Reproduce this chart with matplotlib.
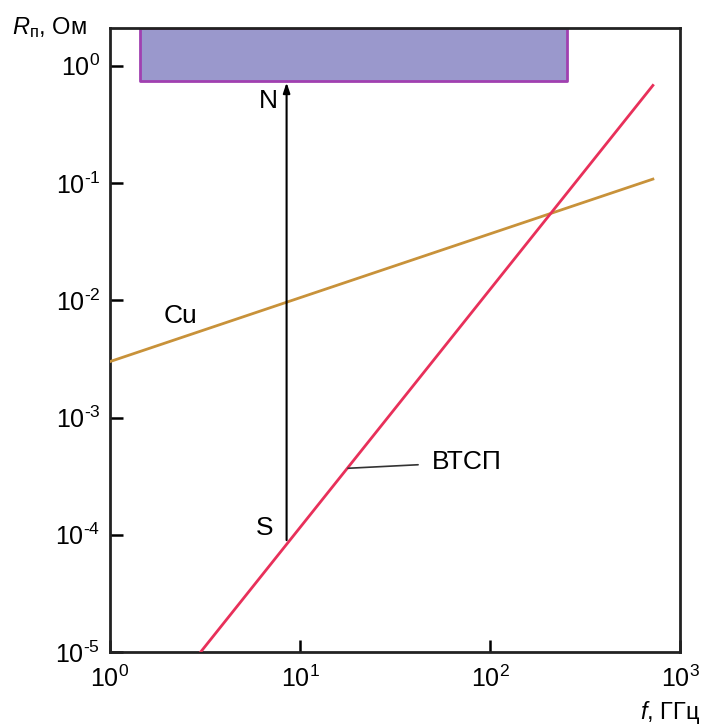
import matplotlib
matplotlib.use("Agg")
import matplotlib.pyplot as plt
import numpy as np
from matplotlib.ticker import LogLocator, NullLocator, FuncFormatter

plt.rcParams['font.family'] = ['Liberation Sans', 'DejaVu Sans']
plt.rcParams['mathtext.fontset'] = 'custom'
plt.rcParams['mathtext.rm'] = 'Liberation Sans'
plt.rcParams['mathtext.it'] = 'Liberation Sans:italic'
plt.rcParams['mathtext.bf'] = 'Liberation Sans:bold'
plt.rcParams['axes.unicode_minus'] = False

# Data
cu_f = [1.0, 720.0]
cu_r = [3.0e-3, 0.108]
htsc_f = [3.0, 720.0]
htsc_r = [1.0e-5, 0.68]
arrow_f = 8.5
arrow_r = [9.0e-5, 0.72]
box_f = [1.44, 254.0]
box_r = [0.745, 2.1]
xlim = [1.0, 1000.0]
ylim = [1.0e-5, 2.1]

fig = plt.figure(figsize=(7.04, 7.24), dpi=100)
ax = fig.add_axes([110/704, 1-652/724, (680-110)/704, (652-28)/724])
ax.set_xscale('log')
ax.set_yscale('log')
ax.set_xlim(xlim)
ax.set_ylim(ylim)

ax.fill_between(box_f, box_r[0], box_r[1], facecolor='#9a98cc', edgecolor='#a040b0', linewidth=2, zorder=2)

ax.plot(cu_f, cu_r, color='#c8923a', linewidth=2, zorder=3)
ax.plot(htsc_f, htsc_r, color='#e8305a', linewidth=2, zorder=3)

ax.annotate('', xy=(arrow_f, arrow_r[1]), xytext=(arrow_f, arrow_r[0]),
            arrowprops=dict(arrowstyle='-|>,head_length=0.6,head_width=0.2', color='black', lw=1.5,
                            shrinkA=0, shrinkB=0), zorder=4)

lab_fs = 19
ax.text(6.8, 0.50, 'N', fontsize=lab_fs, ha='center', va='center')
ax.text(6.5, 1.14e-4, 'S', fontsize=lab_fs, ha='center', va='center')
ax.text(2.34, 7.4e-3, 'Cu', fontsize=lab_fs, ha='center', va='center')
ax.annotate('ВТСП', xy=(17.9, 3.69e-4), xytext=(49.5, 4.15e-4), fontsize=lab_fs,
            ha='left', va='center',
            arrowprops=dict(arrowstyle='-', color='#333333', lw=1.2, shrinkA=8, shrinkB=0))


def pow_fmt(v, pos):
    e = int(round(np.log10(v)))
    if e < 0:
        return r'$10^{\text{-}%d}$' % (-e)
    return r'$10^{%d}$' % e


ax.xaxis.set_major_locator(LogLocator(base=10, numticks=10))
ax.yaxis.set_major_locator(LogLocator(base=10, numticks=10))
ax.xaxis.set_minor_locator(NullLocator())
ax.yaxis.set_minor_locator(NullLocator())
ax.xaxis.set_major_formatter(FuncFormatter(pow_fmt))
ax.yaxis.set_major_formatter(FuncFormatter(pow_fmt))
ax.tick_params(axis='both', which='major', direction='in', length=9, width=1.8,
               labelsize=18, pad=7, top=False, right=False)
ax.tick_params(axis='x', pad=10)
for s in ax.spines.values():
    s.set_linewidth(2)
    s.set_color('#222222')

fig.text(12/704, 1-28/724, r'$R_{\mathrm{п}}$, Ом', fontsize=17, ha='left', va='center')
fig.text(700/704, 1-712/724, r'$f$, ГГц', fontsize=17, ha='right', va='center')

fig.savefig('out.png', dpi=100)
